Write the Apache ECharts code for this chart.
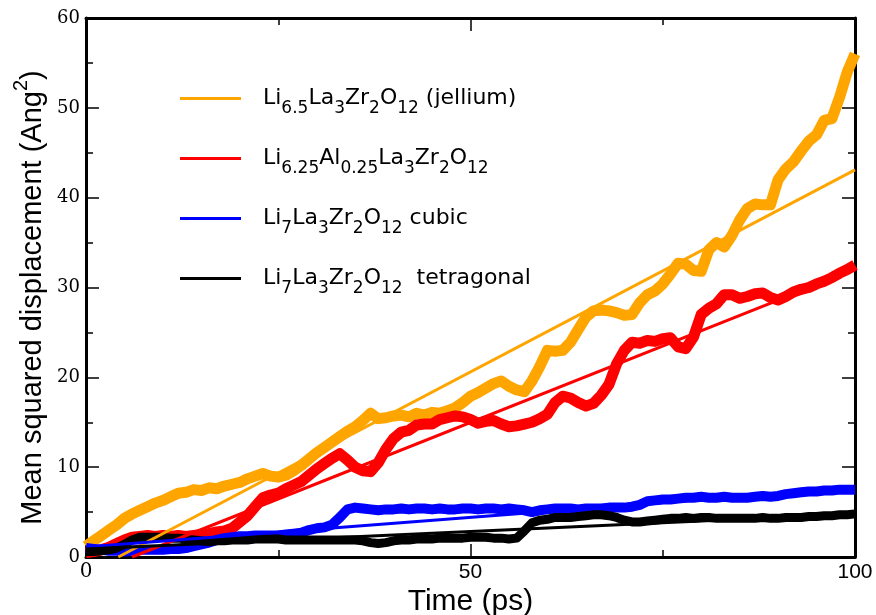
<!DOCTYPE html>
<html>
<head>
<meta charset="utf-8">
<script src="https://cdn.jsdelivr.net/npm/echarts@6/dist/echarts.min.js"></script>
<style>
  html, body { margin: 0; padding: 0; background: #fff; }
  #chart { width: 876px; height: 615px; }
</style>
</head>
<body>
<div id="chart"></div>
<script>
// MSD curves, one value per ps (t = 0..100)
const timeStep = 1
const orangeMsd = [1.2,1.8,2.4,3.0,3.6,4.3,4.8,5.2,5.6,6.0,
  6.3,6.7,7.1,7.2,7.5,7.4,7.7,7.6,7.9,8.1,
  8.3,8.7,9.0,9.3,9.0,8.9,9.1,9.6,10.2,10.9,
  11.6,12.2,12.8,13.4,14.0,14.5,15.2,16.0,15.4,15.5,
  15.7,15.8,15.6,16.0,15.8,16.1,16.0,16.3,16.6,17.2,
  17.9,18.3,18.8,19.3,19.6,19.0,18.6,18.4,19.6,21.2,
  23.0,22.9,23.0,23.9,25.3,26.7,27.4,27.5,27.4,27.2,
  26.9,27.0,28.3,29.2,29.6,30.4,31.5,32.7,32.6,31.9,
  31.8,34.2,35.0,34.5,35.8,37.5,38.8,39.3,39.2,39.2,
  42.0,43.2,44.0,45.2,46.3,47.0,48.6,48.8,51.2,54.0,
  56.0]
const redMsd = [0.5,0.6,0.8,1.1,1.5,1.9,2.2,2.3,2.4,2.3,
  2.4,2.3,2.4,2.3,2.4,2.5,2.6,2.8,2.9,3.2,
  3.9,4.6,5.6,6.6,6.9,7.1,7.6,8.0,8.4,9.1,
  9.8,10.4,11.0,11.5,10.8,10.0,9.6,9.5,10.5,12.0,
  13.2,13.9,14.1,14.7,14.8,14.8,15.3,15.5,15.7,15.6,
  15.3,14.9,15.1,15.2,14.8,14.5,14.6,14.8,15.0,15.4,
  15.9,17.2,17.9,17.7,17.2,16.8,17.1,18.0,19.2,21.5,
  23.0,23.9,23.8,24.1,24.0,24.3,24.4,23.4,23.2,24.5,
  27.0,27.7,28.2,29.2,29.2,28.8,29.0,29.3,29.4,28.9,
  28.6,29.0,29.5,29.8,30.0,30.4,30.7,31.1,31.6,32.0,
  32.5]
const blueMsd = [1.0,0.9,0.8,0.7,0.7,0.6,0.7,0.8,0.8,0.8,
  0.8,0.9,0.9,1.0,1.2,1.4,1.6,1.9,2.1,2.2,
  2.3,2.3,2.4,2.4,2.4,2.4,2.5,2.6,2.7,3.0,
  3.2,3.3,3.6,4.4,5.3,5.5,5.4,5.3,5.2,5.3,
  5.3,5.4,5.3,5.4,5.4,5.3,5.4,5.3,5.3,5.4,
  5.4,5.3,5.4,5.4,5.3,5.4,5.3,5.2,5.0,5.2,
  5.3,5.4,5.4,5.4,5.3,5.4,5.4,5.4,5.5,5.5,
  5.5,5.6,5.8,6.2,6.3,6.4,6.4,6.5,6.6,6.6,
  6.7,6.6,6.6,6.7,6.6,6.6,6.6,6.7,6.8,6.7,
  6.8,7.0,7.1,7.2,7.3,7.3,7.4,7.4,7.5,7.5,
  7.5]
const blackMsd = [0.6,0.6,0.7,0.8,1.0,1.4,1.9,2.2,2.2,2.2,
  2.2,2.1,2.1,2.0,1.9,1.8,1.7,1.8,1.8,1.9,
  1.9,1.9,2.0,2.0,2.0,2.0,1.9,1.9,1.9,1.9,
  1.9,1.9,1.9,1.9,1.9,1.9,1.8,1.6,1.5,1.6,
  1.8,1.9,1.9,2.0,2.0,2.0,2.1,2.1,2.1,2.1,
  2.2,2.2,2.2,2.1,2.1,2.0,2.1,2.9,3.8,4.1,
  4.2,4.4,4.4,4.4,4.5,4.6,4.7,4.7,4.6,4.4,
  4.1,3.9,3.9,4.0,4.1,4.2,4.3,4.3,4.4,4.3,
  4.4,4.4,4.3,4.3,4.3,4.3,4.3,4.3,4.4,4.3,
  4.3,4.4,4.4,4.4,4.5,4.5,4.6,4.6,4.7,4.7,
  4.8]

// linear fits, [t, msd] end points
const orangeFit = [[4.2, 0], [100, 43.1]]
const redFit = [[6, 0], [100, 32]]
const blueFit = [[0, 1.1], [100, 7.7]]
const blackFit = [[0, 0.9], [100, 4.8]]

const seriesNames = ['jellium', 'al', 'cubic', 'tetra']
const legendLabels = {
  jellium: 'Li{s|6.5}La{s|3}Zr{s|2}O{s|12} (jellium)',
  al: 'Li{s|6.25}Al{s|0.25}La{s|3}Zr{s|2}O{s|12}',
  cubic: 'Li{s|7}La{s|3}Zr{s|2}O{s|12} cubic',
  tetra: 'Li{s|7}La{s|3}Zr{s|2}O{s|12}  tetragonal'
}
const colors = ['#ffa500', '#ff0000', '#0000ff', '#000000']
const bandWidths = [11, 11, 10, 9]

const xTicks = { min: 0, max: 100, interval: 50 }
const yTicks = { min: 0, max: 60, interval: 10 }

const toPairs = (list) => list.map((v, i) => [i * timeStep, v])

const chart = echarts.init(document.getElementById('chart'))

const frameAxis = (extra) => Object.assign({
  type: 'value',
  axisLine: { show: true, onZero: false, lineStyle: { color: '#000', width: 3 } },
  axisTick: { show: true, inside: true, length: 13, lineStyle: { color: '#000', width: 1.5 } },
  minorTick: { show: true, splitNumber: 2, length: 7, lineStyle: { color: '#000', width: 1.5 } },
  splitLine: { show: false },
  axisLabel: { show: false }
}, extra)

const bandSeries = [orangeMsd, redMsd, blueMsd, blackMsd].map((list, i) => ({
  type: 'line',
  name: seriesNames[i],
  data: toPairs(list),
  showSymbol: false,
  symbol: 'none',
  color: colors[i],
  lineStyle: { width: bandWidths[i], color: colors[i], join: 'round' },
  z: 2 + i
}))

const fitSeries = [orangeFit, redFit, blueFit, blackFit].map((list, i) => ({
  type: 'line',
  name: seriesNames[i] + '-fit',
  data: list,
  showSymbol: false,
  symbol: 'none',
  lineStyle: { width: 3, color: colors[i] },
  z: 10
}))

chart.setOption({
  animation: false,
  grid: { left: 86, right: 21, top: 18, bottom: 58, containLabel: false, outerBoundsMode: 'none' },
  legend: {
    data: seriesNames,
    orient: 'vertical',
    left: 180,
    top: 80,
    padding: 0,
    itemGap: 23,
    itemWidth: 61,
    itemHeight: 3,
    icon: 'rect',
    selectedMode: false,
    formatter: (name) => legendLabels[name],
    textStyle: {
      fontFamily: 'DejaVu Sans',
      fontSize: 22,
      color: '#000',
      lineHeight: 30,
      padding: [0, 0, 0, 17],
      rich: {
        s: { fontFamily: 'DejaVu Sans', fontSize: 17, color: '#000', lineHeight: 30, padding: [20, 0, 0, 0] }
      }
    }
  },
  xAxis: [
    frameAxis(Object.assign({
      position: 'bottom',
      name: 'Time (ps)',
      nameLocation: 'middle',
      nameGap: 30,
      nameMoveOverlap: false,
      nameTextStyle: { fontFamily: 'Liberation Sans', fontSize: 30, color: '#000', lineHeight: 30 },
      axisLabel: {
        show: true,
        margin: 5,
        fontFamily: 'Liberation Sans',
        fontSize: 21,
        color: '#000',
        formatter: (v) => v === 0 ? '{serif|0}' : String(v),
        rich: { serif: { fontFamily: 'DejaVu Serif', fontSize: 20, color: '#000' } }
      }
    }, xTicks)),
    frameAxis(Object.assign({ position: 'top' }, xTicks))
  ],
  yAxis: [
    frameAxis(Object.assign({
      position: 'left',
      name: 'Mean squared displacement (Ang{sup|2}){pad|.}',
      nameLocation: 'middle',
      nameRotate: 90,
      nameGap: 35,
      nameMoveOverlap: false,
      nameTextStyle: {
        fontFamily: 'Liberation Sans',
        fontSize: 29,
        color: '#000',
        lineHeight: 36,
        rich: {
          sup: { fontFamily: 'Liberation Sans', fontSize: 20, color: '#000', lineHeight: 36, padding: [0, 0, 24, 0] },
          pad: { fontFamily: 'Liberation Sans', fontSize: 29, lineHeight: 36, width: 20, color: 'rgba(0,0,0,0)' }
        }
      },
      axisLabel: { show: true, margin: 6, fontFamily: 'DejaVu Serif', fontSize: 18, color: '#000' }
    }, yTicks)),
    frameAxis(Object.assign({ position: 'right' }, yTicks))
  ],
  series: bandSeries.concat(fitSeries)
})
</script>
</body>
</html>
